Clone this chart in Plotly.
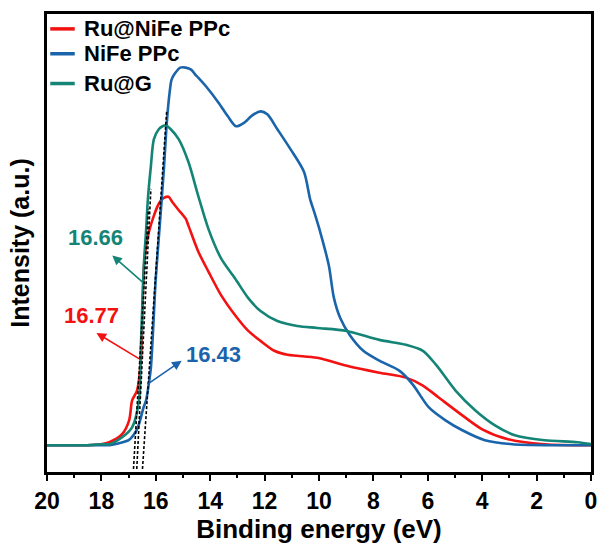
import plotly.graph_objects as go

# ---------------- data (binding energy in eV, intensity in a.u.) ----------------
ru_nife_E = [20, 19, 18.5, 18.0, 17.71, 17.24, 16.98, 16.87, 16.69, 16.55, 16.44, 16.33,
             16.25, 16.07, 15.89, 15.75, 15.53, 15.4, 15.2, 14.9, 14.8, 14.44, 14.07,
             13.6, 13.09, 12.6, 12.15, 11.64, 11.16, 10.8, 10.07, 8.98, 7.78, 6.8, 6.18,
             5.6, 4.73, 4.0, 3.05, 1.71, 0]
ru_nife_I = [27, 27, 27, 28, 30, 38, 52, 72, 82, 112, 205, 232,
             242, 258, 270, 275, 277, 272, 265, 255, 248, 222, 202,
             178, 158, 142, 132, 122, 118, 117, 115, 107, 100, 95, 87,
             75, 57, 43, 33, 28, 27]

nife_E = [20, 19, 18.5, 18.0, 17.71, 17.35, 17.0, 16.75, 16.62, 16.45, 16.36, 16.25,
          16.18, 16.0, 15.85, 15.7, 15.6, 15.5, 15.42, 15.3, 15.1, 14.9, 14.7, 14.55,
          14.44, 14.15, 13.7, 13.35, 13.05, 12.73, 12.5, 12.15, 11.9, 11.53, 11.05,
          10.55, 10.33, 10.18, 9.96, 9.64, 9.45, 9.22, 8.87, 8.37, 7.78, 7.05, 6.55,
          5.96, 5.35, 4.73, 3.9, 2.9, 1.5, 0]
nife_I = [27, 27, 27, 27, 27, 29, 32, 40, 48, 65, 72, 90,
          105, 195, 250, 306, 350, 380, 395, 401, 407, 407, 405, 400,
          397, 388, 372, 358, 348, 352, 358, 363, 360, 345, 325,
          302, 275, 262, 242, 208, 175, 155, 138, 122, 112, 102, 88,
          65, 52, 42, 32, 28, 27, 27]

rug_E = [20, 19, 18.5, 18.0, 17.71, 17.24, 16.87, 16.62, 16.55, 16.44, 16.36, 16.29,
         16.18, 16.07, 15.89, 15.75, 15.64, 15.45, 15.16, 14.8, 14.44, 14.07, 13.6,
         13.09, 12.6, 12.15, 11.53, 10.8, 10.07, 8.98, 7.78, 6.8, 6.18, 5.7, 4.98,
         4.25, 3.53, 2.8, 1.71, 0.5, 0]
rug_I = [27, 27, 27, 28, 28, 35, 45, 72, 125, 208, 242, 275,
         308, 335, 345, 348, 349, 345, 335, 312, 278, 245, 215,
         195, 175, 162, 152, 147, 145, 142, 133, 128, 122, 108, 82,
         62, 47, 37, 32, 30, 28]

series_names = ["Ru@NiFe PPc", "NiFe PPc", "Ru@G"]
series_colors = ["#F21212", "#1A64AB", "#148476"]

# onset tangent lines: (E_bottom, I_bottom, E_top, I_top)
tangent_E = [[16.82, 16.27], [16.49, 15.6], [16.70, 16.18]]
tangent_I = [[3, 265], [3, 363], [3, 285]]

onset_labels = ["16.77", "16.43", "16.66"]
label_pos = [(18.36, 158), (13.89, 118), (18.22, 236)]
arrow_head = [(18.18, 140), (15.05, 112), (17.6, 218)]
arrow_tail = [(16.55, 113), (16.33, 88), (16.44, 190)]

x_ticks = [20, 18, 16, 14, 12, 10, 8, 6, 4, 2, 0]

FONT = "Liberation Sans, Arial, sans-serif"

fig = go.Figure()
for E, I, name, col in zip([ru_nife_E, nife_E, rug_E], [ru_nife_I, nife_I, rug_I],
                           series_names, series_colors):
    fig.add_trace(go.Scatter(x=E, y=I, mode="lines", name=name, showlegend=False,
                             line=dict(color=col, width=2.6, shape="spline", smoothing=0.8)))

for tE, tI in zip(tangent_E, tangent_I):
    fig.add_trace(go.Scatter(x=tE, y=tI, mode="lines", showlegend=False,
                             line=dict(color="black", width=1.6, dash="3px,2px")))

for lab, (lx, ly), (hx, hy), (tx, ty), col in zip(onset_labels, label_pos, arrow_head,
                                                 arrow_tail, series_colors):
    fig.add_annotation(x=hx, y=hy, ax=tx, ay=ty, xref="x", yref="y", axref="x", ayref="y",
                       text="", showarrow=True, arrowhead=2, arrowsize=1.2,
                       arrowwidth=1.6, arrowcolor=col)
    fig.add_annotation(x=lx, y=ly, xref="x", yref="y", text=lab, showarrow=False,
                       font=dict(family=FONT, size=22, color=col, weight="bold"))

# legend (drawn in paper coordinates, top-left inside the frame)
legend_y = [0.9675, 0.9132, 0.8482]
for name, col, ly in zip(series_names, series_colors, legend_y):
    fig.add_shape(type="line", xref="paper", yref="paper", x0=0.006, x1=0.051,
                  y0=ly, y1=ly, line=dict(color=col, width=3.5))
    fig.add_annotation(x=0.064, y=ly, xref="paper", yref="paper", text=name,
                       showarrow=False, xanchor="left", yanchor="middle",
                       font=dict(family=FONT, size=22, color="black", weight="bold"))

fig.update_layout(
    width=607, height=548,
    margin=dict(l=47, r=10, t=14, b=73),
    paper_bgcolor="white", plot_bgcolor="white",
    showlegend=False,
    font=dict(family=FONT, color="black"),
)
fig.update_xaxes(range=[20, 0], tickvals=x_ticks, ticktext=[str(t) for t in x_ticks],
                 ticks="outside", ticklen=6, tickwidth=2, tickcolor="black",
                 minor=dict(dtick=1, ticks="outside", ticklen=3, tickwidth=2,
                            tickcolor="black"),
                 showline=True, linewidth=3, linecolor="black", mirror=True,
                 showgrid=False, zeroline=False,
                 tickfont=dict(family=FONT, size=23, color="black", weight="bold"),
                 title=dict(text="Binding energy (eV)", standoff=6,
                            font=dict(family=FONT, size=26, color="black", weight="bold")))
fig.update_yaxes(range=[0, 461], showticklabels=False, ticks="",
                 showline=True, linewidth=3, linecolor="black", mirror=True,
                 showgrid=False, zeroline=False,
                 title=dict(text="Intensity (a.u.)", standoff=8,
                            font=dict(family=FONT, size=25, color="black", weight="bold")))

fig.write_html("out.html")
